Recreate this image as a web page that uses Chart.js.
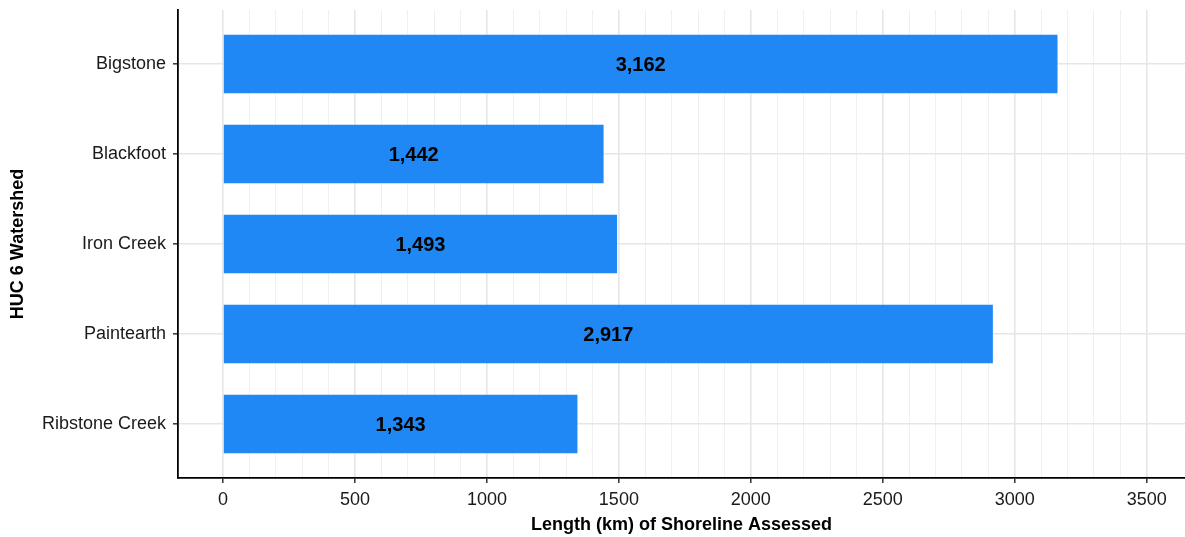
<!DOCTYPE html>
<html>
<head>
<meta charset="utf-8">
<script src="https://cdn.jsdelivr.net/npm/chart.js@4/dist/chart.umd.min.js"></script>
<style>
  html, body { margin: 0; padding: 0; background: #fff; }
  #wrap { width: 1185px; height: 537px; }
</style>
</head>
<body>
<div id="wrap"><canvas id="chart"></canvas></div>
<script>
const watersheds = ['Bigstone', 'Blackfoot', 'Iron Creek', 'Paintearth', 'Ribstone Creek'];
const shorelineKm = [3162, 1442, 1493, 2917, 1343];
const xTickValues = [];
for (let v = 0; v <= 3500; v += 100) xTickValues.push(v);

const FONT = "'Liberation Sans', Arial, Helvetica, sans-serif";

// draw the value in the middle of each bar
const barLabels = {
    id: 'barLabels',
    afterDatasetsDraw(chart) {
        const ctx = chart.ctx;
        const meta = chart.getDatasetMeta(0);
        ctx.save();
        ctx.font = 'bold 20px ' + FONT;
        ctx.fillStyle = '#000';
        ctx.textAlign = 'center';
        ctx.textBaseline = 'middle';
        meta.data.forEach((bar, i) => {
            const mid = (bar.x + bar.base) / 2;
            ctx.fillText(shorelineKm[i].toLocaleString('en-US'), mid, bar.y + 1);
        });
        ctx.restore();
    }
};

new Chart(document.getElementById('chart'), {
    type: 'bar',
    data: {
        datasets: [{
            data: shorelineKm.map((v, i) => ({ x: v, y: i + 1 })),
            backgroundColor: '#1F88F4',
            borderWidth: 0,
            barPercentage: 0.65,
            categoryPercentage: 1
        }]
    },
    options: {
        indexAxis: 'y',
        responsive: true,
        maintainAspectRatio: false,
        animation: false,
        layout: { padding: { top: 10, right: 0, left: 0, bottom: 0 } },
        plugins: {
            legend: { display: false },
            tooltip: { enabled: false }
        },
        scales: {
            x: {
                type: 'linear',
                min: -170.5,
                max: 3645,
                afterBuildTicks: s => { s.ticks = xTickValues.map(v => ({ value: v })); },
                afterFit: s => { s.height = 59; s.paddingLeft = 0; s.paddingRight = 0; },
                border: { color: '#000', width: 1.8 },
                grid: {
                    color: c => c.tick && c.tick.value % 500 === 0 ? '#e6e6e6' : '#f0f0f0',
                    lineWidth: c => c.tick && c.tick.value % 500 === 0 ? 1.6 : 1,
                    tickColor: c => c.tick && c.tick.value % 500 === 0 ? '#333' : 'rgba(0,0,0,0)',
                    tickWidth: 1.5,
                    tickLength: 5
                },
                ticks: {
                    autoSkip: false,
                    maxRotation: 0,
                    padding: 6,
                    color: '#1a1a1a',
                    font: { family: FONT, size: 18 },
                    callback: v => v % 500 === 0 ? String(v) : ''
                },
                title: {
                    display: true,
                    text: 'Length (km) of Shoreline Assessed',
                    color: '#000',
                    font: { family: FONT, size: 18, weight: 'bold' },
                    padding: { top: 0, bottom: 1 }
                }
            },
            y: {
                type: 'linear',
                reverse: true,
                offset: false,
                min: 0.4,
                max: 5.6,
                afterBuildTicks: s => { s.ticks = watersheds.map((w, i) => ({ value: i + 1 })); },
                afterFit: s => { s.width = 178; s.paddingTop = 0; s.paddingBottom = 0; },
                border: { color: '#000', width: 1.8 },
                grid: {
                    offset: false,
                    color: '#e6e6e6',
                    lineWidth: 1.6,
                    tickColor: '#333',
                    tickWidth: 1.5,
                    tickLength: 5
                },
                ticks: {
                    autoSkip: false,
                    padding: 7,
                    color: '#1a1a1a',
                    font: { family: FONT, size: 18 },
                    callback: v => watersheds[v - 1] || ''
                },
                title: {
                    display: true,
                    text: 'HUC 6 Watershed',
                    color: '#000',
                    font: { family: FONT, size: 18, weight: 'bold' },
                    padding: { top: 7, bottom: 0 }
                }
            }
        }
    },
    plugins: [barLabels]
});
</script>
</body>
</html>
